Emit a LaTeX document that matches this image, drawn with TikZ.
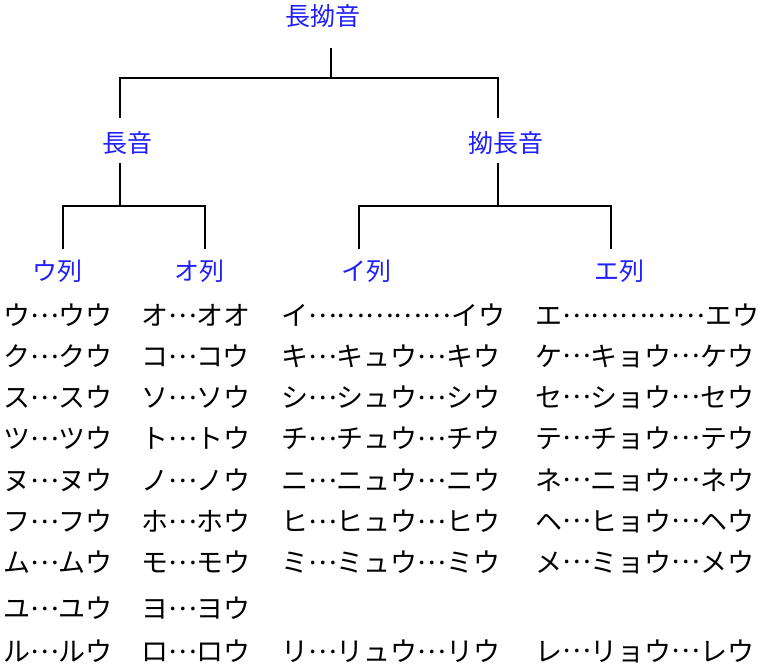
\documentclass[tikz,border=0pt]{standalone}
\usepackage{fontspec}
\newfontfamily\jp{Noto Sans CJK JP}
\newcommand\dts{\raisebox{0.3em}{…}}
\definecolor{lblue}{RGB}{30,30,255}
\tikzset{
  lbl/.style={font=\jp\fontsize{25}{30}\selectfont, text=lblue, inner sep=0pt},
  rowtxt/.style={font=\jp\fontsize{27}{30}\selectfont, anchor=west, inner sep=0pt},
  conn/.style={line width=1.8pt, black}
}
\begin{document}
\begin{tikzpicture}[x=1pt,y=-1pt]
\useasboundingbox (0,0) rectangle (758,672);
% labels
\node[lbl] (root) at (323,16) {長拗音};
\node[lbl] (cho) at (127,143) {長音};
\node[lbl] (yo) at (506,143) {拗長音};
\node[lbl] (u) at (57,271) {ウ列};
\node[lbl] (o) at (199,271) {オ列};
\node[lbl] (i) at (366,271) {イ列};
\node[lbl] (e) at (619,271) {エ列};
% junction coordinates
\coordinate (rt) at (331,48);
\coordinate (j0) at (331,78);
\coordinate (lt) at (120,118);
\coordinate (rtt) at (498,118);
\coordinate (cb) at (120,163);
\coordinate (j1) at (120,206);
\coordinate (ut) at (63,249);
\coordinate (ot) at (205,249);
\coordinate (yb) at (498,163);
\coordinate (j2) at (498,206);
\coordinate (it) at (359,249);
\coordinate (et) at (611,249);
% connectors
\draw[conn] (rt) -- (j0);
\draw[conn] (j0) -| (lt);
\draw[conn] (j0) -| (rtt);
\draw[conn] (cb) -- (j1);
\draw[conn] (j1) -| (ut);
\draw[conn] (j1) -| (ot);
\draw[conn] (yb) -- (j2);
\draw[conn] (j2) -| (it);
\draw[conn] (j2) -| (et);
% rows
\foreach \t [count=\n] in {ウ\dts ウウ,ク\dts クウ,ス\dts スウ,ツ\dts ツウ,ヌ\dts ヌウ,フ\dts フウ,ム\dts ムウ,ユ\dts ユウ,ル\dts ルウ}{
  \pgfmathsetmacro{\yy}{{0,315,356,397,438,480,521,562,608,651}[\n]}
  \node[rowtxt] (a\n) at (3,\yy) {\t};
}
\foreach \t [count=\n] in {オ\dts オオ,コ\dts コウ,ソ\dts ソウ,ト\dts トウ,ノ\dts ノウ,ホ\dts ホウ,モ\dts モウ,ヨ\dts ヨウ,ロ\dts ロウ}{
  \pgfmathsetmacro{\yy}{{0,315,356,397,438,480,521,562,608,651}[\n]}
  \node[rowtxt] (b\n) at (141,\yy) {\t};
}
\foreach \t [count=\n] in {イ\dts\dts\dts\dts\dts イウ,キ\dts キュウ\dts キウ,シ\dts シュウ\dts シウ,チ\dts チュウ\dts チウ,ニ\dts ニュウ\dts ニウ,ヒ\dts ヒュウ\dts ヒウ,ミ\dts ミュウ\dts ミウ}{
  \pgfmathsetmacro{\yy}{{0,315,356,397,438,480,521,562,608,651}[\n]}
  \node[rowtxt] (c\n) at (281,\yy) {\t};
}
\node[rowtxt] (c9) at (281,651) {リ\dts リュウ\dts リウ};
\foreach \t [count=\n] in {エ\dts\dts\dts\dts\dts エウ,ケ\dts キョウ\dts ケウ,セ\dts ショウ\dts セウ,テ\dts チョウ\dts テウ,ネ\dts ニョウ\dts ネウ,ヘ\dts ヒョウ\dts ヘウ,メ\dts ミョウ\dts メウ}{
  \pgfmathsetmacro{\yy}{{0,315,356,397,438,480,521,562,608,651}[\n]}
  \node[rowtxt] (d\n) at (535,\yy) {\t};
}
\node[rowtxt] (d9) at (535,651) {レ\dts リョウ\dts レウ};
\end{tikzpicture}
\end{document}
